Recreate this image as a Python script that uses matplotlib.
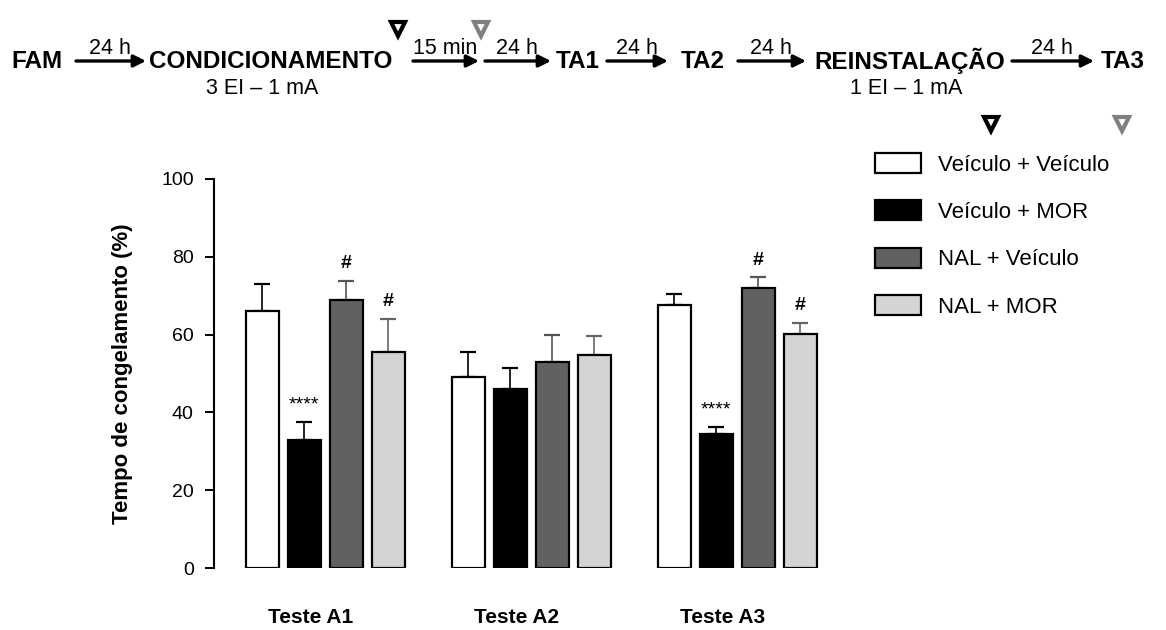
import matplotlib
matplotlib.use("Agg")
import matplotlib.pyplot as plt
import numpy as np

plt.rcParams['font.family'] = ['Liberation Sans', 'DejaVu Sans']

# data
groups = ['Teste A1', 'Teste A2', 'Teste A3']
series = ['Veículo + Veículo', 'Veículo + MOR', 'NAL + Veículo', 'NAL + MOR']
veh_veh = [66.0, 49.0, 67.5]
veh_mor = [33.0, 46.0, 34.5]
nal_veh = [69.0, 53.0, 72.0]
nal_mor = [55.6, 54.8, 60.2]
veh_veh_err = [7.0, 6.6, 2.9]
veh_mor_err = [4.5, 5.4, 1.8]
nal_veh_err = [4.8, 7.0, 2.7]
nal_mor_err = [8.5, 4.9, 2.8]
yticks = [0, 20, 40, 60, 80, 100]

means = [veh_veh, veh_mor, nal_veh, nal_mor]
errs = [veh_veh_err, veh_mor_err, nal_veh_err, nal_mor_err]
face = ['white', 'black', '#616161', '#d4d4d4']
ecol = ['black', 'black', '#555555', '#666666']
# significance marks: (series index, group index, text, bold)
marks = [(1, 0, '****', False), (1, 2, '****', False),
         (2, 0, '#', True), (2, 2, '#', True),
         (3, 0, '#', True), (3, 2, '#', True)]

fig = plt.figure(figsize=(11.66, 6.3), dpi=100)
ax = fig.add_axes([0.1835, 0.0984, 0.5283, 0.6175])

x = np.arange(len(groups))
step = 0.204
width = 0.16
bars = []
for i, (m, e) in enumerate(zip(means, errs)):
    xi = x + (i - 1.5) * step
    b = ax.bar(xi, m, width, color=face[i], edgecolor='black', linewidth=1.6,
               label=series[i], zorder=3)
    bars.append(b)
    ax.errorbar(xi, m, yerr=[np.zeros(len(m)), e], fmt='none', ecolor=ecol[i],
                elinewidth=1.2, capsize=6, capthick=1.6, zorder=2)

for si, gi, txt, bold in marks:
    xi = x[gi] + (si - 1.5) * step
    top = means[si][gi] + errs[si][gi]
    ax.text(xi, top + 4.4, txt, ha='center', va='center', fontsize=14,
            fontweight='bold' if bold else 'normal')

ax.set_ylim(0, 100)
ax.set_xlim(-0.541, 2.45)
ax.set_yticks(yticks)
ax.set_yticklabels([str(t) for t in yticks], fontsize=14)
ax.tick_params(axis='y', length=6.5, width=1.4, pad=8)
ax.set_xticks(x - 0.07)
ax.set_xticklabels(groups, fontsize=15, fontweight='bold')
ax.tick_params(axis='x', length=0, pad=29)
for s in ['top', 'right', 'bottom']:
    ax.spines[s].set_visible(False)
ax.spines['left'].set_linewidth(1.5)
ax.set_ylabel('Tempo de congelamento (%)', fontsize=16, fontweight='bold',
              labelpad=20)

leg = fig.legend(handles=bars, labels=series, loc='upper left',
                 bbox_to_anchor=(875 / 1166, 1 - 153 / 630), frameon=False,
                 fontsize=16, handlelength=2.05, handleheight=1.0,
                 handletextpad=0.8, labelspacing=1.12, borderpad=0,
                 borderaxespad=0)

# overlay in pixel coordinates for the protocol timeline
tl = fig.add_axes([0, 0, 1, 1])
tl.set_xlim(0, 1166)
tl.set_ylim(630, 0)
tl.set_axis_off()

row_y = 61
bold_items = [('FAM', 37), ('CONDICIONAMENTO', 271), ('TA1', 578),
              ('TA2', 703), ('REINSTALAÇÃO', 910), ('TA3', 1123)]
for txt, cx in bold_items:
    tl.text(cx, row_y, txt, ha='center', va='center', fontsize=17.5,
            fontweight='bold')

arrows = [(76, 146, '24 h'), (413, 479, '15 min'), (485, 551, '24 h'),
          (607, 668, '24 h'), (738, 806, '24 h'), (1012, 1094, '24 h')]
for x0, x1, lab in arrows:
    tl.annotate('', xy=(x1, row_y), xytext=(x0, row_y),
                arrowprops=dict(arrowstyle='-|>', lw=2.4, color='black',
                                mutation_scale=18, shrinkA=0, shrinkB=0))
    tl.text((x0 + x1) / 2 - 1, row_y - 2, lab, ha='center', va='bottom',
            fontsize=15.5)

tl.text(262, 88, '3 EI – 1 mA', ha='center', va='center', fontsize=15.5)
tl.text(906, 88, '1 EI – 1 mA', ha='center', va='center', fontsize=15.5)

# injection markers
for px, py, c in [(398, 29, 'black'), (481, 29, '#808080'),
                  (991, 124, 'black'), (1122, 124, '#808080')]:
    tl.plot([px], [py], marker='v', ms=10, mfc='white', mec=c, mew=3)

fig.savefig('out.png', dpi=100)
